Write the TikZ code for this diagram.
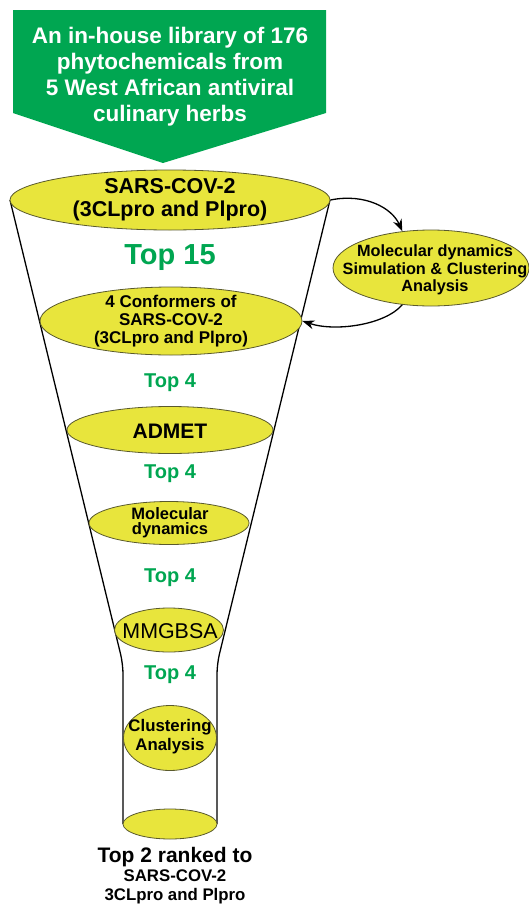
\documentclass[tikz,border=0pt]{standalone}
\usepackage{fontspec}
\setmainfont{Liberation Sans}
\usetikzlibrary{shapes.geometric,arrows.meta}
\definecolor{hgreen}{RGB}{0,166,81}
\definecolor{hyellow}{RGB}{232,229,60}
\definecolor{hedge}{RGB}{90,90,45}
\tikzset{
  oval/.style={ellipse, draw=hedge, line width=0.8pt, fill=hyellow, inner sep=0pt},
  ovaltext/.style={align=center, text=black, inner sep=0pt},
  toplabel/.style={text=hgreen, font=\bfseries\fontsize{20}{24}\selectfont},
  funnel/.style={draw=black, line width=1.3pt},
  loopar/.style={draw=black, line width=1.3pt, -{Stealth[length=12pt,width=9pt]}}
}
\begin{document}
\begin{tikzpicture}[x=1pt,y=-1pt]
\useasboundingbox (0,0) rectangle (529,905);
% green arrow
\fill[hgreen] (13,10) -- (326,10) -- (326,113) -- (163,163) -- (13,113) -- cycle;
\node[text=white, align=center, font=\bfseries\fontsize{22.5}{26}\selectfont] (title) at (170,77)
  {An in-house library of 176\\phytochemicals from\\5 West African antiviral\\culinary herbs};
% funnel outline
\draw[funnel, rounded corners=10pt] (10,200) -- (123,664) -- (123,824);
\draw[funnel, rounded corners=10pt] (330,200) -- (217,664) -- (217,824);
% ellipses
\node[oval, minimum width=320pt, minimum height=60pt] (e1) at (170,200) {};
\node[ovaltext, font=\bfseries\fontsize{21.5}{23}\selectfont] (e1t) at (170,200) {SARS-COV-2\\(3CLpro and Plpro)};
\node[oval, minimum width=262pt, minimum height=68pt] (e2) at (171,321) {};
\node[ovaltext, font=\bfseries\fontsize{17}{18.3}\selectfont] (e2t) at (171,321) {4 Conformers of\\SARS-COV-2\\(3CLpro and Plpro)};
\node[oval, minimum width=206pt, minimum height=47pt] (e3) at (170,430) {};
\node[ovaltext, font=\bfseries\fontsize{21}{24}\selectfont] (e3t) at (170,431) {ADMET};
\node[oval, minimum width=160pt, minimum height=43pt] (e4) at (169,523) {};
\node[ovaltext, font=\bfseries\fontsize{16.5}{15}\selectfont] (e4t) at (170,523) {Molecular\\dynamics};
\node[oval, minimum width=109pt, minimum height=44pt] (e5) at (169,630) {};
\node[ovaltext, font=\fontsize{21.4}{24}\selectfont] (e5t) at (170,631) {MMGBSA};
\node[oval, minimum width=93pt, minimum height=65pt] (e6) at (170,738) {};
\node[ovaltext, font=\bfseries\fontsize{16.8}{19}\selectfont] (e6t) at (170,737) {Clustering\\Analysis};
\node[oval, minimum width=94pt, minimum height=30pt] (e7) at (170,824) {};
% side ellipse
\node[oval, minimum width=196pt, minimum height=76pt] (md) at (431,268) {};
\node[ovaltext, font=\bfseries\fontsize{16.3}{17.5}\selectfont] (mdt) at (435,270) {Molecular dynamics\\Simulation \& Clustering\\Analysis};
% labels
\node[text=hgreen, font=\bfseries\fontsize{29}{32}\selectfont] (t15) at (170,258) {Top 15};
\node[toplabel] (t4a) at (170,383) {Top 4};
\node[toplabel] (t4b) at (170,474) {Top 4};
\node[toplabel] (t4c) at (170,578) {Top 4};
\node[toplabel] (t4d) at (170,675) {Top 4};
% bottom text
\node[align=center, font=\bfseries\fontsize{21}{21}\selectfont] (res1) at (175,857) {Top 2 ranked to};
\node[align=center, font=\bfseries\fontsize{16.8}{19}\selectfont] (res2) at (175,887) {SARS-COV-2\\3CLpro and Plpro};
% loop arrows
\draw[loopar] (e1.east) .. controls (365,193) and (392,208) .. (md.128);
\draw[loopar] (md.-128) .. controls (385,325) and (335,332) .. (e2.east);
\end{tikzpicture}
\end{document}
